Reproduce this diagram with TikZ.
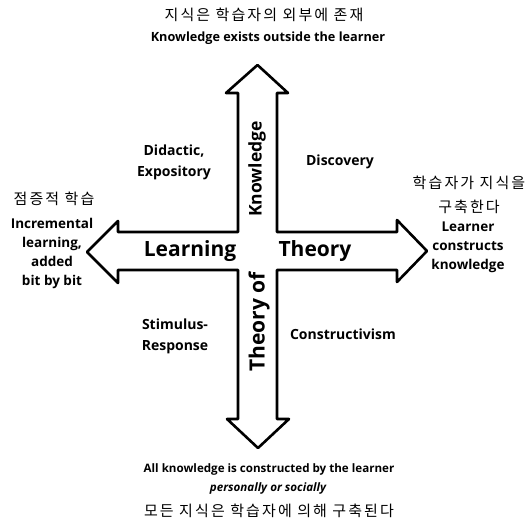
\documentclass[tikz,border=0pt]{standalone}
\usepackage{fontspec}
\setmainfont{Open Sans}
\newfontfamily\kr[LetterSpace=14]{Noto Sans CJK KR}
\begin{document}
\begin{tikzpicture}[x=1pt,y=-1pt,
  outline/.style={draw=black,line width=2.6pt,line join=round},
  kor/.style={font=\kr\fontsize{15}{24}\selectfont,inner sep=0,align=center},
  eng/.style={font=\bfseries\fontsize{12.7}{15}\selectfont,inner sep=0,align=center},
  quad/.style={font=\bfseries\fontsize{14}{21}\selectfont,inner sep=0,align=center},
  side/.style={font=\bfseries\fontsize{13.5}{19}\selectfont,inner sep=0,align=center},
  big/.style={font=\bfseries\fontsize{21}{24}\selectfont,inner sep=0}]
\useasboundingbox (0,0) rectangle (532,526);
% cross of four arrows
\draw[outline] (257.5,65) -- (288,93) -- (277,93) -- (277,232) -- (397,232)
  -- (397,220) -- (427,251) -- (397,282) -- (397,270) -- (277,270)
  -- (277,419) -- (289,419) -- (258,448) -- (227,419) -- (238,419)
  -- (238,270) -- (118,270) -- (118,283) -- (87,252) -- (118,221)
  -- (118,232) -- (238,232) -- (238,93) -- (226,93) -- cycle;
% labels in the arrows
\node[big] (learning) at (190,251) {Learning};
\node[big] (theory) at (315,251) {Theory};
\node[big,rotate=90,font=\bfseries\fontsize{17.5}{20}\selectfont] (knowledge) at (257,169) {Knowledge};
\node[big,rotate=90] (theoryof) at (259,322) {Theory of};
% top
\node[kor] (ktop) at (264,15) {지식은 학습자의 외부에 존재};
\node[eng] (etop) at (268,38) {Knowledge exists outside the learner};
% quadrants
\node[quad] (didactic) at (174,162) {Didactic,\\Expository};
\node[quad] (discovery) at (340,162) {Discovery};
\node[quad] (stimulus) at (175,336) {Stimulus-\\Response};
\node[quad] (constr) at (343,334) {Constructivism};
% left
\node[kor] (kleft) at (54,199) {점증적 학습};
\node[side] (eleft) at (52,253) {Incremental\\learning,\\added\\bit by bit};
% right
\node[kor] (kright) at (469,195) {학습자가 지식을\\구축한다};
\node[side] (eright) at (468,247) {Learner\\constructs\\knowledge};
% bottom
\node[eng,font=\bfseries\fontsize{11.6}{15}\selectfont] (ebot) at (269,469) {All knowledge is constructed by the learner};
\node[eng,font=\bfseries\itshape\fontsize{11.6}{15}\selectfont] (ebot2) at (268,488) {personally or socially};
\node[kor] (kbot) at (269,511) {모든 지식은 학습자에 의해 구축된다};
\end{tikzpicture}
\end{document}
